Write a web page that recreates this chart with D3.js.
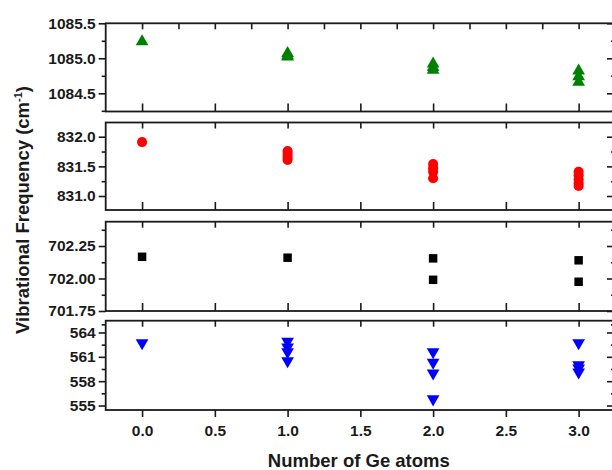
<!DOCTYPE html>
<html><head><meta charset="utf-8">
<script src="https://cdn.jsdelivr.net/npm/d3@7"></script>
<style>
html,body{margin:0;padding:0;background:#fff;}
svg text{font-family:"Liberation Sans",Arial,sans-serif;font-weight:bold;fill:#1a1a1a;}
</style></head>
<body>
<script>
// ---- data ----
const geAtoms = [0, 1, 2, 3];
const xTickValues = [0, 0.5, 1, 1.5, 2, 2.5, 3];
const xTickLabels = ["0.0", "0.5", "1.0", "1.5", "2.0", "2.5", "3.0"];

const mode1085 = [[1085.24], [1085.07, 1085.04, 1085.02], [1084.92, 1084.87, 1084.83], [1084.82, 1084.74, 1084.66]];
const mode831 = [[831.91], [831.76, 831.71, 831.66, 831.61], [831.54, 831.47, 831.41, 831.30], [831.41, 831.35, 831.28, 831.22, 831.17]];
const mode702 = [[702.167], [702.16], [702.155, 701.99], [702.14, 701.975]];
const mode560 = [[562.7], [562.9, 562.2, 561.6, 560.5], [561.6, 560.3, 559.0, 555.8], [562.7, 560.0, 559.6, 559.1]];

const ticks1085 = [1084.5, 1085.0, 1085.5];
const ticks831 = [831.0, 831.5, 832.0];
const ticks702 = [701.75, 702.00, 702.25];
const ticks560 = [555, 558, 561, 564];
const minor1085 = [1084.25, 1084.75, 1085.25];
const minor831 = [830.75, 831.25, 831.75, 832.25];
const minor702 = [701.875, 702.125, 702.375];
const minor560 = [556.5, 559.5, 562.5, 565];

// ---- layout ----
const W = 612, H = 470;
const svg = d3.select("body").append("svg").attr("width", W).attr("height", H);
const axisColor = "#1a1a1a";
const x = d3.scaleLinear().domain([-0.25, 3.25]).range([105.7, 615]);

const panels = [
  {data: mode1085, top: 23.3, bottom: 111.5, domain: [1084.24, 1085.5], ticks: ticks1085, minor: minor1085, fmt: d3.format(".1f"), sym: d3.symbolTriangle, size: 70, rot: 0, color: "#008000", topMinor: true},
  {data: mode831, top: 122.5, bottom: 210, domain: [830.764, 832.24], ticks: ticks831, minor: minor831, fmt: d3.format(".1f"), sym: d3.symbolCircle, size: 80, rot: 0, color: "#ff0000"},
  {data: mode702, top: 221.7, bottom: 311, domain: [701.75, 702.437], ticks: ticks702, minor: minor702, fmt: d3.format(".2f"), sym: d3.symbolSquare, size: 72, rot: 0, color: "#000000"},
  {data: mode560, top: 320.7, bottom: 410, domain: [554.45, 565.45], ticks: ticks560, minor: minor560, fmt: d3.format("d"), sym: d3.symbolTriangle, size: 70, rot: 180, color: "#0000ff", bottomAxis: true}
];

const xMinorVals = d3.range(-0.25, 3.26, 0.25).filter(v => v > -0.2);

panels.forEach(p => {
  const y = d3.scaleLinear().domain(p.domain).range([p.bottom, p.top]);
  const g = svg.append("g");
  const x0 = x.range()[0], x1 = x.range()[1];

  // box
  g.append("rect").attr("x", x0).attr("y", p.top).attr("width", x1 - x0).attr("height", p.bottom - p.top)
    .attr("fill", "none").attr("stroke", axisColor).attr("stroke-width", 1.8);

  // left axis
  const left = d3.axisLeft(y).tickValues(p.ticks).tickFormat(p.fmt).tickSize(7).tickPadding(3);
  const gl = g.append("g").attr("transform", `translate(${x0},0)`).call(left);
  gl.select(".domain").remove();
  gl.selectAll("line").attr("stroke", axisColor).attr("stroke-width", 1.6);
  gl.selectAll("text").attr("font-size", 15.5).attr("fill", axisColor);
  const glm = g.append("g").attr("transform", `translate(${x0},0)`).call(d3.axisLeft(y).tickValues(p.minor.filter(v => v >= p.domain[0] && v <= p.domain[1])).tickSize(4).tickFormat(""));
  glm.select(".domain").remove();
  glm.selectAll("line").attr("stroke", axisColor).attr("stroke-width", 1.6);

  // right axis (inward)
  const gr = g.append("g").attr("transform", `translate(${x1},0)`).call(d3.axisLeft(y).tickValues(p.ticks).tickSize(8).tickFormat(""));
  gr.select(".domain").remove();
  gr.selectAll("line").attr("stroke", axisColor).attr("stroke-width", 1.6);
  const grm = g.append("g").attr("transform", `translate(${x1},0)`).call(d3.axisLeft(y).tickValues(p.minor.filter(v => v >= p.domain[0] && v <= p.domain[1])).tickSize(4).tickFormat(""));
  grm.select(".domain").remove();
  grm.selectAll("line").attr("stroke", axisColor).attr("stroke-width", 1.6);

  // top ticks (inward)
  const gt = g.append("g").attr("transform", `translate(0,${p.top})`).call(d3.axisTop(x).tickValues(p.topMinor ? xMinorVals : xTickValues).tickSize(-6).tickFormat(""));
  gt.select(".domain").remove();
  gt.selectAll("line").attr("stroke", axisColor).attr("stroke-width", 1.6);

  // bottom ticks
  if (p.bottomAxis) {
    const gb = g.append("g").attr("transform", `translate(0,${p.bottom})`).call(
      d3.axisBottom(x).tickValues(xTickValues).tickFormat((d, i) => xTickLabels[i]).tickSize(7).tickPadding(8));
    gb.select(".domain").remove();
    gb.selectAll("line").attr("stroke", axisColor).attr("stroke-width", 1.6);
    gb.selectAll("text").attr("font-size", 15.5).attr("fill", axisColor);
  } else {
    const gb = g.append("g").attr("transform", `translate(0,${p.bottom})`).call(d3.axisBottom(x).tickValues(xTickValues).tickSize(-8).tickFormat(""));
    gb.select(".domain").remove();
    gb.selectAll("line").attr("stroke", axisColor).attr("stroke-width", 1.6);
  }

  // points
  const pts = p.data.flatMap((vals, i) => vals.map(v => ({n: geAtoms[i], v})));
  g.append("g").selectAll("path").data(pts).join("path")
    .attr("d", d3.symbol().type(p.sym).size(p.size))
    .attr("transform", d => `translate(${x(d.n)},${y(d.v)}) rotate(${p.rot})`)
    .attr("fill", p.color);
});

// axis titles
svg.append("text").attr("x", (105.7 + 612) / 2).attr("y", 467).attr("text-anchor", "middle")
  .attr("font-size", 18.5).text("Number of Ge atoms");

const yt = svg.append("text").attr("transform", "translate(29,210) rotate(-90)").attr("text-anchor", "middle")
  .attr("font-size", 18.5);
yt.append("tspan").text("Vibrational Frequency (cm");
yt.append("tspan").attr("font-size", 11).attr("dy", -7).text("-1");
yt.append("tspan").attr("dy", 7).text(")");
</script>
</body></html>
